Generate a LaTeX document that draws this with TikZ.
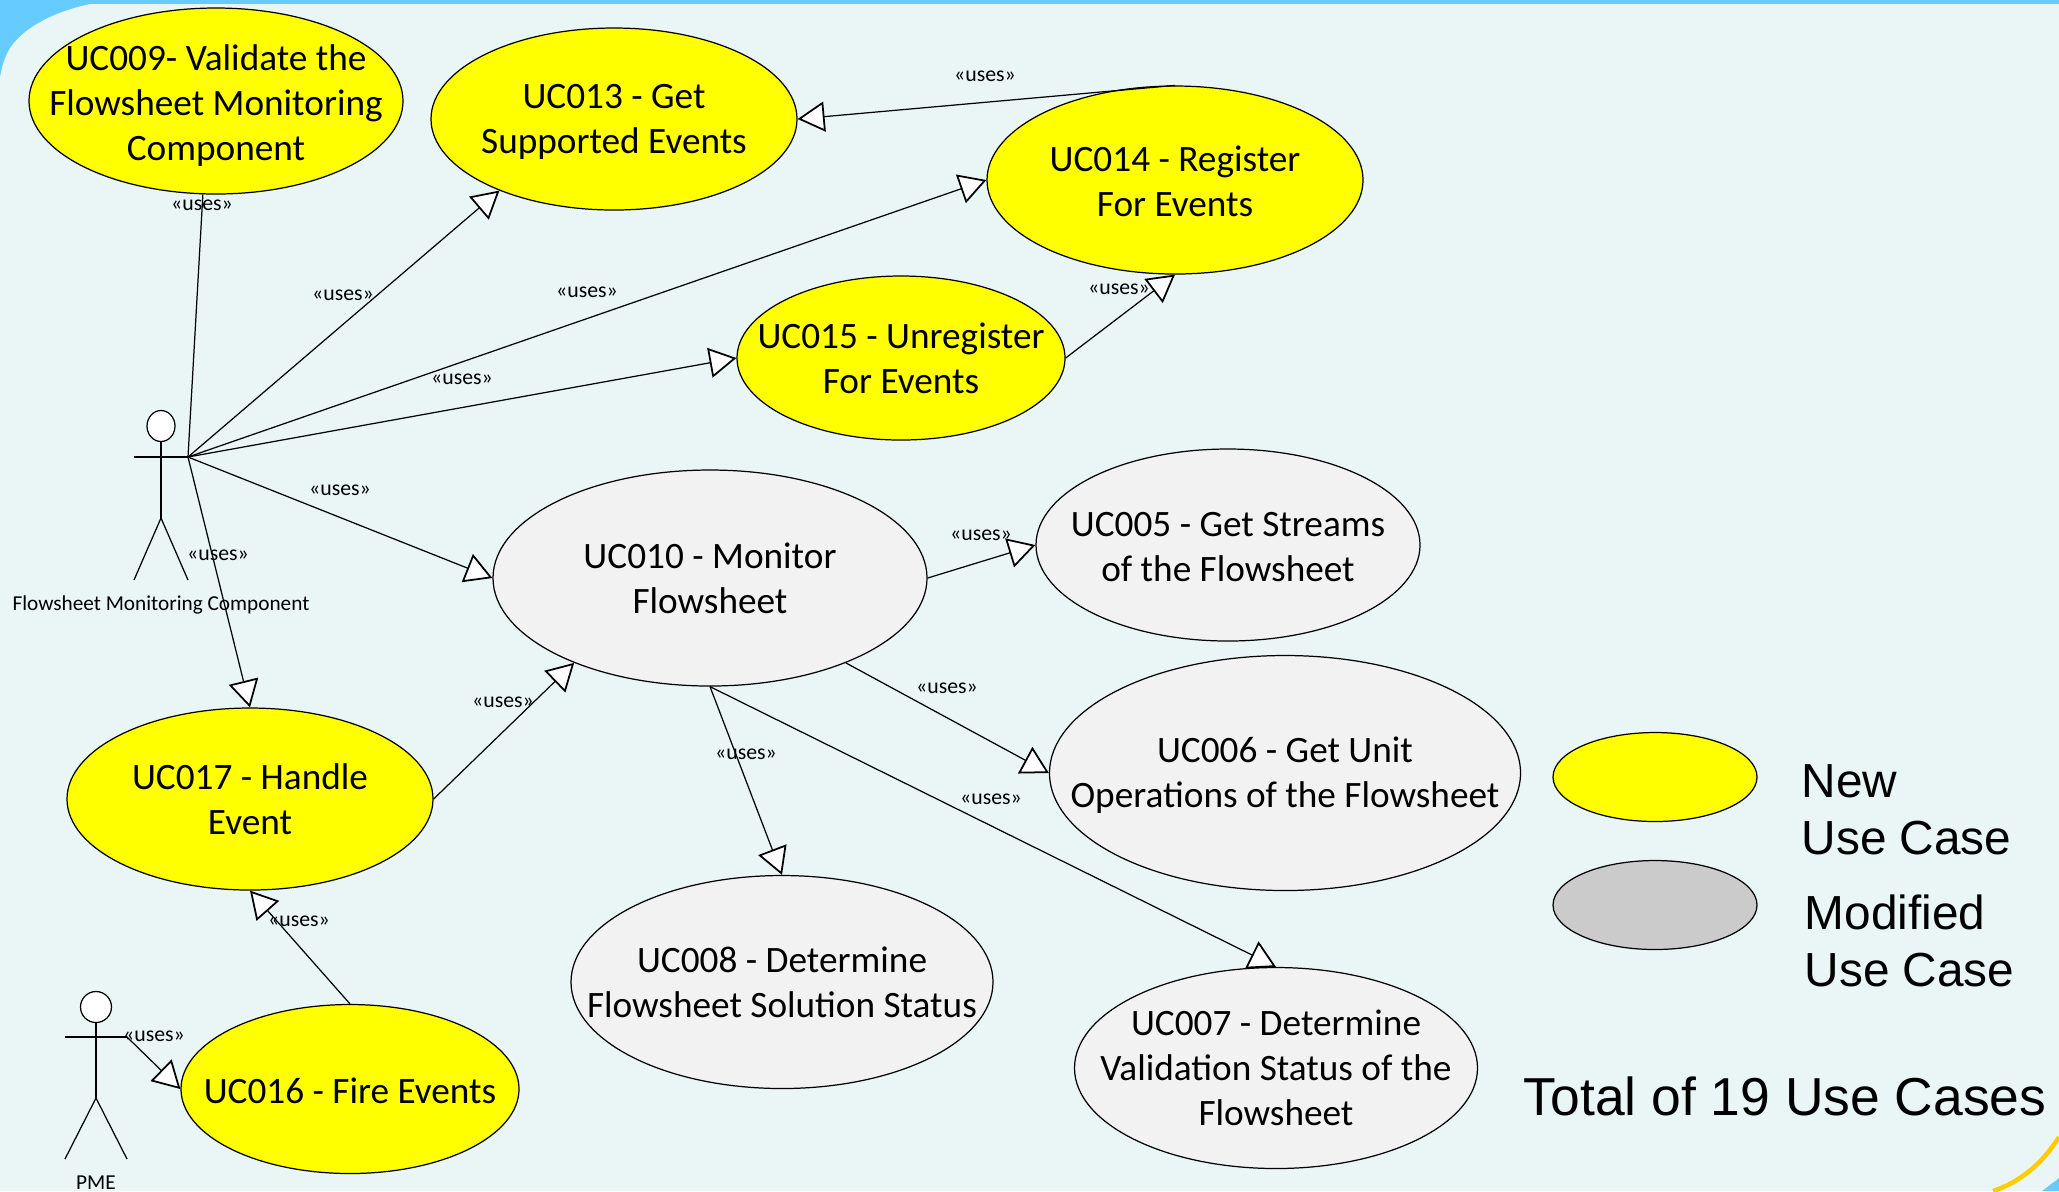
\documentclass[tikz,border=0pt]{standalone}
\usepackage{fontspec}
\setmainfont{Carlito}
\newfontfamily\legendfont{Liberation Sans}
\usetikzlibrary{shapes.geometric,arrows.meta}
\definecolor{slide}{HTML}{EAF6F6}
\definecolor{band}{HTML}{66CCFF}
\definecolor{swoosh}{HTML}{FFCC00}
\definecolor{newcase}{HTML}{FFFF00}
\definecolor{oldcase}{HTML}{F2F2F2}
\definecolor{modcase}{HTML}{CBCBCB}

\begin{document}
\begin{tikzpicture}[
    every path/.style={line width=.35pt},
    uc/.style={draw=black,ellipse,inner sep=-3cm,align=center,font=\fontsize{10.6}{12.8}\selectfont},
    ucnew/.style={uc,fill=newcase},
    ucold/.style={uc,fill=oldcase},
    head/.style={draw=black,fill=white,ellipse,inner sep=0pt},
    uses/.style={inner sep=0pt,font=\fontsize{6.2}{7.5}\selectfont},
    actor/.style={inner sep=0pt,font=\fontsize{6.05}{7.5}\selectfont},
    legend/.style={inner sep=0pt,align=left,anchor=west,font=\legendfont\fontsize{13.6}{16.3}\selectfont},
    gen/.style={-{Triangle[fill=white,line width=.5pt,length=2.7mm,width=3mm]}}]
    \useasboundingbox (0,0) rectangle (20.59,-11.91);

    % slide background
    \fill[slide] (0,0) rectangle (20.59,-11.91);
    \fill[band] (0,0) rectangle (20.59,-.04);
    \fill[band] (0,0) -- (.9,-.04) .. controls (.6,-.1) and (.25,-.25) .. (.1,-.48) .. controls (.04,-.58) and (.02,-.66) .. (0,-.77) -- cycle;
    \fill[band] (20.59,-11.91) -- (20.42,-11.91) .. controls (20.47,-11.87) and (20.53,-11.83) .. (20.59,-11.78) -- cycle;
    \draw[swoosh,line width=1.3pt] (19.93,-11.91) .. controls (20.2,-11.82) and (20.42,-11.64) .. (20.59,-11.37);

    % use cases
    \node[ucnew,minimum width=3.74cm,minimum height=1.86cm] (uc009) at (2.16,-1.01) {\rule{0pt}{10pt}UC009- Validate the\\Flowsheet Monitoring\\Component};
    \node[ucnew,minimum width=3.66cm,minimum height=1.82cm] (uc013) at (6.14,-1.19) {\rule{0pt}{8.8pt}UC013 - Get\\Supported Events};
    \node[ucnew,minimum width=3.76cm,minimum height=1.88cm] (uc014) at (11.75,-1.80) {\rule{0pt}{8pt}UC014 - Register\\For Events};
    \node[ucnew,minimum width=3.28cm,minimum height=1.64cm] (uc015) at (9.01,-3.58) {UC015 - Unregister\\For Events};
    \node[ucold,minimum width=4.34cm,minimum height=2.16cm] (uc010) at (7.10,-5.78) {UC010 - Monitor\\Flowsheet};
    \node[ucold,minimum width=3.84cm,minimum height=1.92cm] (uc005) at (12.28,-5.45) {\rule{0pt}{8pt}UC005 - Get Streams\\of the Flowsheet};
    \node[ucold,minimum width=4.71cm,minimum height=2.35cm] (uc006) at (12.85,-7.73) {\rule{0pt}{8.8pt}UC006 - Get Unit\\Operations of the Flowsheet};
    \node[ucnew,minimum width=3.66cm,minimum height=1.82cm] (uc017) at (2.50,-7.99) {UC017 - Handle\\Event};
    \node[ucold,minimum width=4.22cm,minimum height=2.13cm] (uc008) at (7.82,-9.82) {UC008 - Determine\\Flowsheet Solution Status};
    \node[ucold,minimum width=4.03cm,minimum height=2.01cm] (uc007) at (12.76,-10.68) {UC007 - Determine\\Validation Status of the\\Flowsheet};
    \node[ucnew,minimum width=3.38cm,minimum height=1.69cm] (uc016) at (3.50,-10.89) {\rule{0pt}{8.3pt}UC016 - Fire Events};

    % actors
    \node[head,minimum width=.28cm,minimum height=.31cm] (fmchead) at (1.61,-4.26) {};
    \coordinate (fmchand) at (1.88,-4.57);
    \coordinate (fmchip) at (1.61,-5.18);
    \draw (1.34,-4.57) -- (fmchand);
    \draw (fmchead) -- (fmchip);
    \draw (1.34,-5.80) -- (fmchip) -- (1.88,-5.80);
    \node[actor] (fmc) at (1.61,-6.05) {Flowsheet Monitoring Component};

    \node[head,minimum width=.31cm,minimum height=.31cm] (pmehead) at (.96,-10.07) {};
    \coordinate (pmehand) at (1.27,-10.37);
    \coordinate (pmehip) at (.96,-10.98);
    \draw (.65,-10.37) -- (pmehand);
    \draw (pmehead) -- (pmehip);
    \draw (.65,-11.59) -- (pmehip) -- (1.27,-11.59);
    \node[actor] (pme) at (.96,-11.83) {PME};

    % connectors
    \draw (fmchand) -- (uc009.-98);
    \draw[gen] (fmchand) -- (uc013.212);
    \draw[gen] (fmchand) -- (uc014.west);
    \draw[gen] (fmchand) -- (uc015.west);
    \draw[gen] (fmchand) -- (uc010.west);
    \draw[gen] (fmchand) -- (uc017.north);
    \draw[gen] (uc015.east) -- (uc014.south);
    \draw[gen] (uc014.north) -- (uc013.east);
    \draw[gen] (uc010.east) -- (uc005.west);
    \draw[gen] (uc010.-32) -- (uc006.west);
    \draw[gen] (uc010.south) -- (uc008.north);
    \draw[gen] (uc010.south) -- (uc007.north);
    \draw[gen] (uc017.east) -- (uc010.212);
    \draw[gen] (uc016.north) -- (uc017.south);
    \draw[gen] (pmehand) -- (uc016.west);

    % stereotypes
    \node[uses] (u009) at (2.02,-2.055) {«uses»};
    \node[uses] (u013) at (3.43,-2.955) {«uses»};
    \node[uses] (u014) at (5.87,-2.925) {«uses»};
    \node[uses] (u015) at (4.62,-3.795) {«uses»};
    \node[uses] (u1514) at (11.19,-2.895) {«uses»};
    \node[uses] (u1413) at (9.85,-.765) {«uses»};
    \node[uses] (u010) at (3.40,-4.905) {«uses»};
    \node[uses] (u017) at (2.18,-5.55) {«uses»};
    \node[uses] (u005) at (9.81,-5.355) {«uses»};
    \node[uses] (u006) at (9.47,-6.885) {«uses»};
    \node[uses] (u008) at (7.46,-7.545) {«uses»};
    \node[uses] (u007) at (9.91,-7.995) {«uses»};
    \node[uses] (u1710) at (5.03,-7.025) {«uses»};
    \node[uses] (u1617) at (2.99,-9.215) {«uses»};
    \node[uses] (u016) at (1.54,-10.365) {«uses»};

    % legend
    \node[draw=black,fill=newcase,ellipse,inner sep=0pt,minimum width=2.04cm,minimum height=.89cm] (lgnew) at (16.55,-7.77) {};
    \node[draw=black,fill=modcase,ellipse,inner sep=0pt,minimum width=2.04cm,minimum height=.89cm] (lgmod) at (16.55,-9.05) {};
    \node[legend] (lgnewtext) at (18.01,-8.10) {New\\Use Case};
    \node[legend] (lgmodtext) at (18.04,-9.41) {Modified\\Use Case};
    \node[inner sep=0pt,font=\legendfont\fontsize{15.2}{18}\selectfont] (total) at (17.85,-10.96) {Total of 19 Use Cases};
\end{tikzpicture}
\end{document}
